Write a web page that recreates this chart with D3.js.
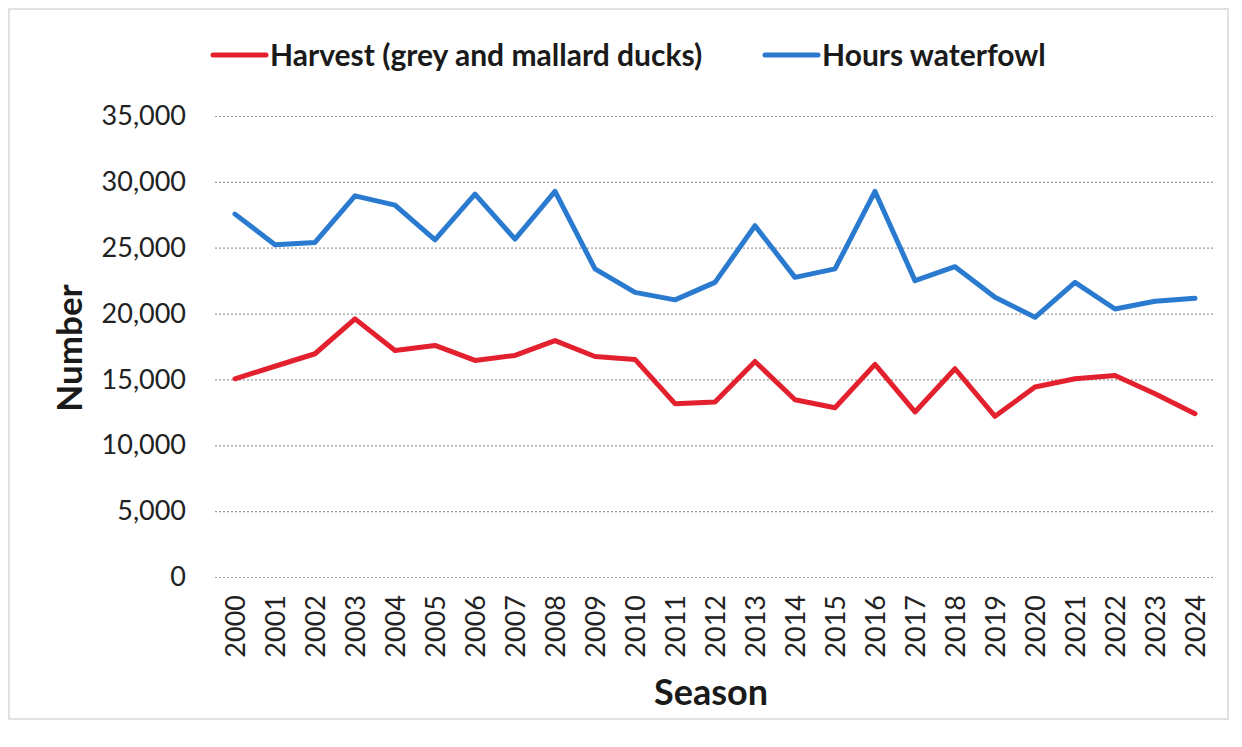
<!DOCTYPE html>
<html>
<head>
<meta charset="utf-8">
<script src="https://cdn.jsdelivr.net/npm/d3@7"></script>
<style>
  body { margin: 0; background: #fff; }
  svg { display: block; font-family: Lato, "Open Sans", sans-serif; }
</style>
</head>
<body>
<div id="chart"></div>
<script>
const seasons = d3.range(2000, 2025);
const harvest = [15050, 16000, 16950, 19600, 17200, 17580, 16440, 16820, 17950, 16740,
                 16520, 13160, 13280, 16360, 13460, 12850, 16140, 12530, 15810, 12200,
                 14420, 15050, 15300, 13920, 12400];
const hours = [27550, 25230, 25400, 28940, 28230, 25600, 29070, 25650, 29270, 23390,
               21610, 21040, 22370, 26670, 22750, 23390, 29270, 22500, 23560, 21240,
               19720, 22370, 20350, 20930, 21160];
const yTicks = [0, 5000, 10000, 15000, 20000, 25000, 30000, 35000];

const width = 1242, height = 747;
const margin = { top: 116, right: 27, bottom: 170, left: 215 };
const font = "Lato, 'Open Sans', sans-serif";

const svg = d3.select("#chart").append("svg")
    .attr("width", width)
    .attr("height", height);

// faint scan border
svg.append("rect")
    .attr("x", 9).attr("y", 9)
    .attr("width", 1219).attr("height", 710)
    .attr("fill", "none")
    .attr("stroke", "#d8d8d8")
    .attr("stroke-width", 1.5);

const x = d3.scalePoint()
    .domain(seasons)
    .range([margin.left, width - margin.right])
    .padding(0.5);

const y = d3.scaleLinear()
    .domain([0, 35000])
    .range([height - margin.bottom, margin.top]);

// gridlines + y labels
const yAxis = svg.append("g")
    .attr("transform", `translate(${margin.left},0)`)
    .call(d3.axisLeft(y)
        .tickValues(yTicks)
        .tickSize(-(width - margin.left - margin.right))
        .tickPadding(29)
        .tickFormat(d3.format(",")));
yAxis.attr("font-family", font);
yAxis.select(".domain").remove();
yAxis.selectAll(".tick line")
    .attr("stroke", "#9a9a9a")
    .attr("stroke-width", 1.2)
    .attr("stroke-dasharray", "2,2");
yAxis.selectAll(".tick text")
    .attr("font-size", 27)
    .attr("fill", "#222");

// x axis labels
const xAxis = svg.append("g")
    .attr("transform", `translate(0,${height - margin.bottom})`)
    .call(d3.axisBottom(x).tickSize(0).tickPadding(0));
xAxis.attr("font-family", font);
xAxis.select(".domain").remove();
xAxis.selectAll(".tick text")
    .attr("font-size", 27)
    .attr("fill", "#222")
    .attr("text-anchor", "end")
    .attr("transform", "translate(0,18) rotate(-90)")
    .attr("dy", "0.36em")
    .attr("x", 0)
    .attr("y", 0);

const line = d3.line()
    .x((d, i) => x(seasons[i]))
    .y(d => y(d));

const series = [
    { name: "Harvest (grey and mallard ducks)", values: harvest, color: "#e3202e" },
    { name: "Hours waterfowl", values: hours, color: "#2a7bd0" }
];

svg.append("g").selectAll("path")
    .data(series)
    .join("path")
    .attr("fill", "none")
    .attr("stroke", d => d.color)
    .attr("stroke-width", 5)
    .attr("stroke-linejoin", "round")
    .attr("stroke-linecap", "round")
    .attr("d", d => line(d.values));

// legend
const legendX = [213, 765];
const legend = svg.append("g").selectAll("g")
    .data(series)
    .join("g")
    .attr("transform", (d, i) => `translate(${legendX[i]},55)`);
legend.append("line")
    .attr("x1", 0).attr("x2", 53)
    .attr("stroke", d => d.color)
    .attr("stroke-width", 5)
    .attr("stroke-linecap", "round");
legend.append("text")
    .attr("x", 57)
    .attr("dy", "0.35em")
    .attr("font-size", 30)
    .attr("font-weight", "bold")
    .attr("fill", "#1a1a1a")
    .text(d => d.name);

// axis titles
svg.append("text")
    .attr("x", 711)
    .attr("y", 692)
    .attr("dy", "0.35em")
    .attr("text-anchor", "middle")
    .attr("font-size", 36)
    .attr("font-weight", "bold")
    .attr("fill", "#1a1a1a")
    .text("Season");

svg.append("text")
    .attr("transform", "translate(70,348) rotate(-90)")
    .attr("dy", "0.35em")
    .attr("text-anchor", "middle")
    .attr("font-size", 35)
    .attr("font-weight", "bold")
    .attr("fill", "#1a1a1a")
    .text("Number");
</script>
</body>
</html>
